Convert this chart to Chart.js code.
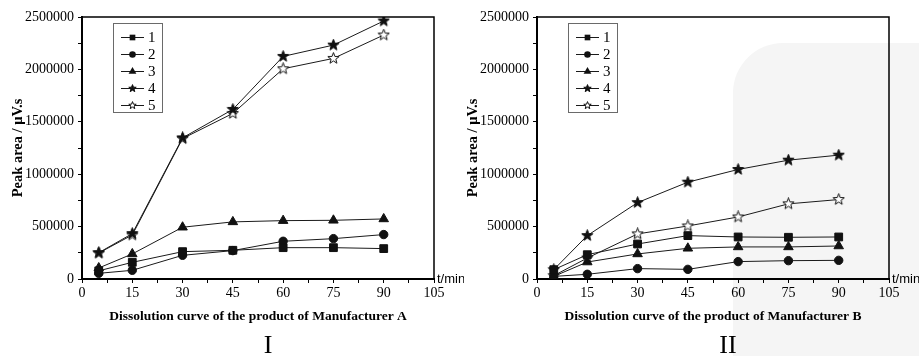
<!DOCTYPE html>
<html><head><meta charset="utf-8">
<script src="https://cdn.jsdelivr.net/npm/chart.js@4"></script>
<style>
html,body{margin:0;padding:0;background:#fff;width:919px;height:356px;overflow:hidden;position:relative}
.c{position:absolute;top:0;height:356px}
#wm{position:absolute;left:733px;top:43px;width:200px;height:330px;background:#f5f5f5;border-radius:50px 0 0 0}
</style></head><body>
<div id="wm"></div>
<div class="c" style="left:0;width:464px"><canvas id="c1" width="464" height="356"></canvas></div>
<div class="c" style="left:455px;width:464px"><canvas id="c2" width="464" height="356"></canvas></div>
<script>
// ---- data ----
const times = [5, 15, 30, 45, 60, 75, 90];
const seriesNames = ['1', '2', '3', '4', '5'];
const xTickLabels = [0, 15, 30, 45, 60, 75, 90, 105];
const yTickLabels = [0, 500000, 1000000, 1500000, 2000000, 2500000];

const a1 = [78000, 159000, 261000, 274000, 299000, 299000, 290000];
const a2 = [54000, 83000, 226000, 271000, 360000, 385000, 424000];
const a3 = [105000, 239000, 494000, 545000, 557000, 560000, 573000];
const a4 = [251000, 433000, 1347000, 1618000, 2124000, 2232000, 2462000];
const a5 = [248000, 420000, 1340000, 1580000, 2006000, 2105000, 2328000];

const b1 = [89000, 232000, 334000, 414000, 401000, 398000, 401000];
const b2 = [25000, 45000, 99000, 92000, 166000, 175000, 178000];
const b3 = [25000, 162000, 239000, 293000, 306000, 306000, 315000];
const b4 = [89000, 414000, 729000, 924000, 1045000, 1134000, 1182000];
const b5 = [32000, 200000, 430000, 506000, 592000, 717000, 758000];

const xTitleA = 'Dissolution curve of the product of Manufacturer A';
const xTitleB = 'Dissolution curve of the product of Manufacturer B';
const yTitle = 'Peak area / μV.s';
const xUnit = 't/min';

// ---- markers ----
function starCanvas(size, filled) {
  const c = document.createElement('canvas');
  c.width = size; c.height = size;
  const g = c.getContext('2d');
  const cx = size / 2, cy = size / 2, ro = size / 2 - 0.6, ri = ro * 0.42;
  g.beginPath();
  for (let i = 0; i < 10; i++) {
    const r = i % 2 ? ri : ro;
    const a = -Math.PI / 2 + i * Math.PI / 5;
    const px = cx + r * Math.cos(a), py = cy + r * Math.sin(a);
    i ? g.lineTo(px, py) : g.moveTo(px, py);
  }
  g.closePath();
  g.fillStyle = filled ? '#111' : '#fff';
  g.fill();
  g.lineWidth = 1; g.strokeStyle = '#111';
  g.stroke();
  return c;
}
const styles = [
  {ps: 'rect', r: 5.5, lr: 4},
  {ps: 'circle', r: 4.2, lr: 3.3},
  {ps: 'triangle', r: 5.5, lr: 4.5},
  {ps: starCanvas(13, true), r: 5, legend: starCanvas(9, true)},
  {ps: starCanvas(13, false), r: 5, legend: starCanvas(9, false)}
];

function drawLegendMarker(ctx, i, x, y) {
  const s = styles[i];
  ctx.save();
  ctx.fillStyle = '#111'; ctx.strokeStyle = '#111';
  if (s.ps === 'rect') {
    const h = s.lr * Math.SQRT1_2;
    ctx.fillRect(x - h, y - h, 2 * h, 2 * h);
  } else if (s.ps === 'circle') {
    ctx.beginPath(); ctx.arc(x, y, s.lr, 0, Math.PI * 2); ctx.fill();
  } else if (s.ps === 'triangle') {
    const r = s.lr;
    ctx.beginPath();
    ctx.moveTo(x, y - r);
    ctx.lineTo(x + r * 0.866, y + r * 0.5);
    ctx.lineTo(x - r * 0.866, y + r * 0.5);
    ctx.closePath(); ctx.fill();
  } else {
    ctx.drawImage(s.legend, x - s.legend.width / 2, y - s.legend.height / 2);
  }
  ctx.restore();
}

const serif = '"Liberation Serif","Times New Roman",serif';

function makeChart(id, series, xTitle, roman, romanX, padRight) {
  const datasets = series.map((vals, i) => ({
    label: seriesNames[i],
    data: times.map((t, k) => ({x: t, y: vals[k]})),
    borderColor: '#1a1a1a',
    backgroundColor: '#111',
    borderWidth: 1,
    pointStyle: styles[i].ps,
    pointRadius: styles[i].r,
    pointHoverRadius: styles[i].r,
    pointBorderColor: '#111',
    pointBackgroundColor: '#111',
    pointBorderWidth: 1,
    tension: 0
  }));
  const deco = {
    id: 'deco',
    afterDraw(chart) {
      const ctx = chart.ctx, ca = chart.chartArea;
      ctx.save();
      // top & right frame
      ctx.strokeStyle = '#000';
      ctx.lineWidth = 1.5;
      ctx.beginPath();
      ctx.moveTo(ca.left, ca.top);
      ctx.lineTo(ca.right, ca.top);
      ctx.lineTo(ca.right, ca.bottom);
      ctx.stroke();
      // legend
      const bx = ca.left + 31, by = 23, bw = 49, bh = 89;
      ctx.lineWidth = 1;
      ctx.strokeStyle = '#6a6a6a';
      ctx.strokeRect(bx + 0.5, by + 0.5, bw, bh);
      ctx.font = '15px ' + serif;
      ctx.textBaseline = 'middle';
      ctx.fillStyle = '#000';
      for (let i = 0; i < seriesNames.length; i++) {
        const y = 37 + 17 * i;
        ctx.strokeStyle = '#1a1a1a';
        ctx.beginPath();
        ctx.moveTo(bx + 8, y + 0.5);
        ctx.lineTo(bx + 31, y + 0.5);
        ctx.stroke();
        drawLegendMarker(ctx, i, bx + 19.5, y + 0.5);
        ctx.fillStyle = '#000';
        ctx.fillText(seriesNames[i], bx + 35, y + 1);
      }
      // unit
      ctx.font = '13px "Liberation Sans", Arial, sans-serif';
      ctx.textAlign = 'left';
      ctx.fillText(xUnit, ca.right + 3, ca.bottom);
      // roman numeral
      ctx.font = '26px ' + serif;
      ctx.textAlign = 'center';
      ctx.fillText(roman, romanX, 346);
      ctx.restore();
    }
  };
  return new Chart(document.getElementById(id), {
    type: 'line',
    data: {datasets},
    options: {
      responsive: false,
      animation: false,
      devicePixelRatio: 1,
      layout: {padding: {top: 17, right: padRight, left: 0, bottom: 0}},
      plugins: {legend: {display: false}, tooltip: {enabled: false}},
      scales: {
        x: {
          type: 'linear', min: 0, max: 105,
          afterBuildTicks(scale) {
            const t = [];
            for (let k = 0; k < xTickLabels.length; k++) {
              t.push({value: xTickLabels[k]});
              if (k < xTickLabels.length - 1) t.push({value: (xTickLabels[k] + xTickLabels[k + 1]) / 2});
            }
            scale.ticks = t;
          },
          ticks: {
            autoSkip: false, maxRotation: 0, padding: 2, color: '#000',
            font: {family: serif, size: 14},
            callback: (v) => xTickLabels.includes(v) ? String(v) : ''
          },
          grid: {drawOnChartArea: false, drawTicks: true, tickLength: 4, color: '#000', lineWidth: 1},
          border: {display: true, color: '#000', width: 2},
          title: {display: true, text: xTitle, color: '#000', font: {family: serif, size: 13.5, weight: 'bold'}, padding: {top: 0, bottom: 31}},
          afterFit(scale) { scale.height = 77; }
        },
        y: {
          type: 'linear', min: 0, max: 2500000,
          afterBuildTicks(scale) {
            const t = [];
            for (let k = 0; k < yTickLabels.length; k++) {
              t.push({value: yTickLabels[k]});
              if (k < yTickLabels.length - 1) t.push({value: (yTickLabels[k] + yTickLabels[k + 1]) / 2});
            }
            scale.ticks = t;
          },
          ticks: {
            autoSkip: false, padding: 4, color: '#000',
            font: {family: serif, size: 14},
            callback: (v) => yTickLabels.includes(v) ? String(v) : ''
          },
          grid: {drawOnChartArea: false, drawTicks: true, tickLength: 4, color: '#000', lineWidth: 1},
          border: {display: true, color: '#000', width: 2},
          title: {display: true, text: yTitle, color: '#000', font: {family: serif, size: 14.5, weight: 'bold'}, padding: {top: 10, bottom: 0}},
          afterFit(scale) { scale.width = 82; }
        }
      }
    },
    plugins: [deco]
  });
}

makeChart('c1', [a1, a2, a3, a4, a5], xTitleA, 'I', 268, 30);
makeChart('c2', [b1, b2, b3, b4, b5], xTitleB, 'II', 273, 30);
</script>
</body></html>
